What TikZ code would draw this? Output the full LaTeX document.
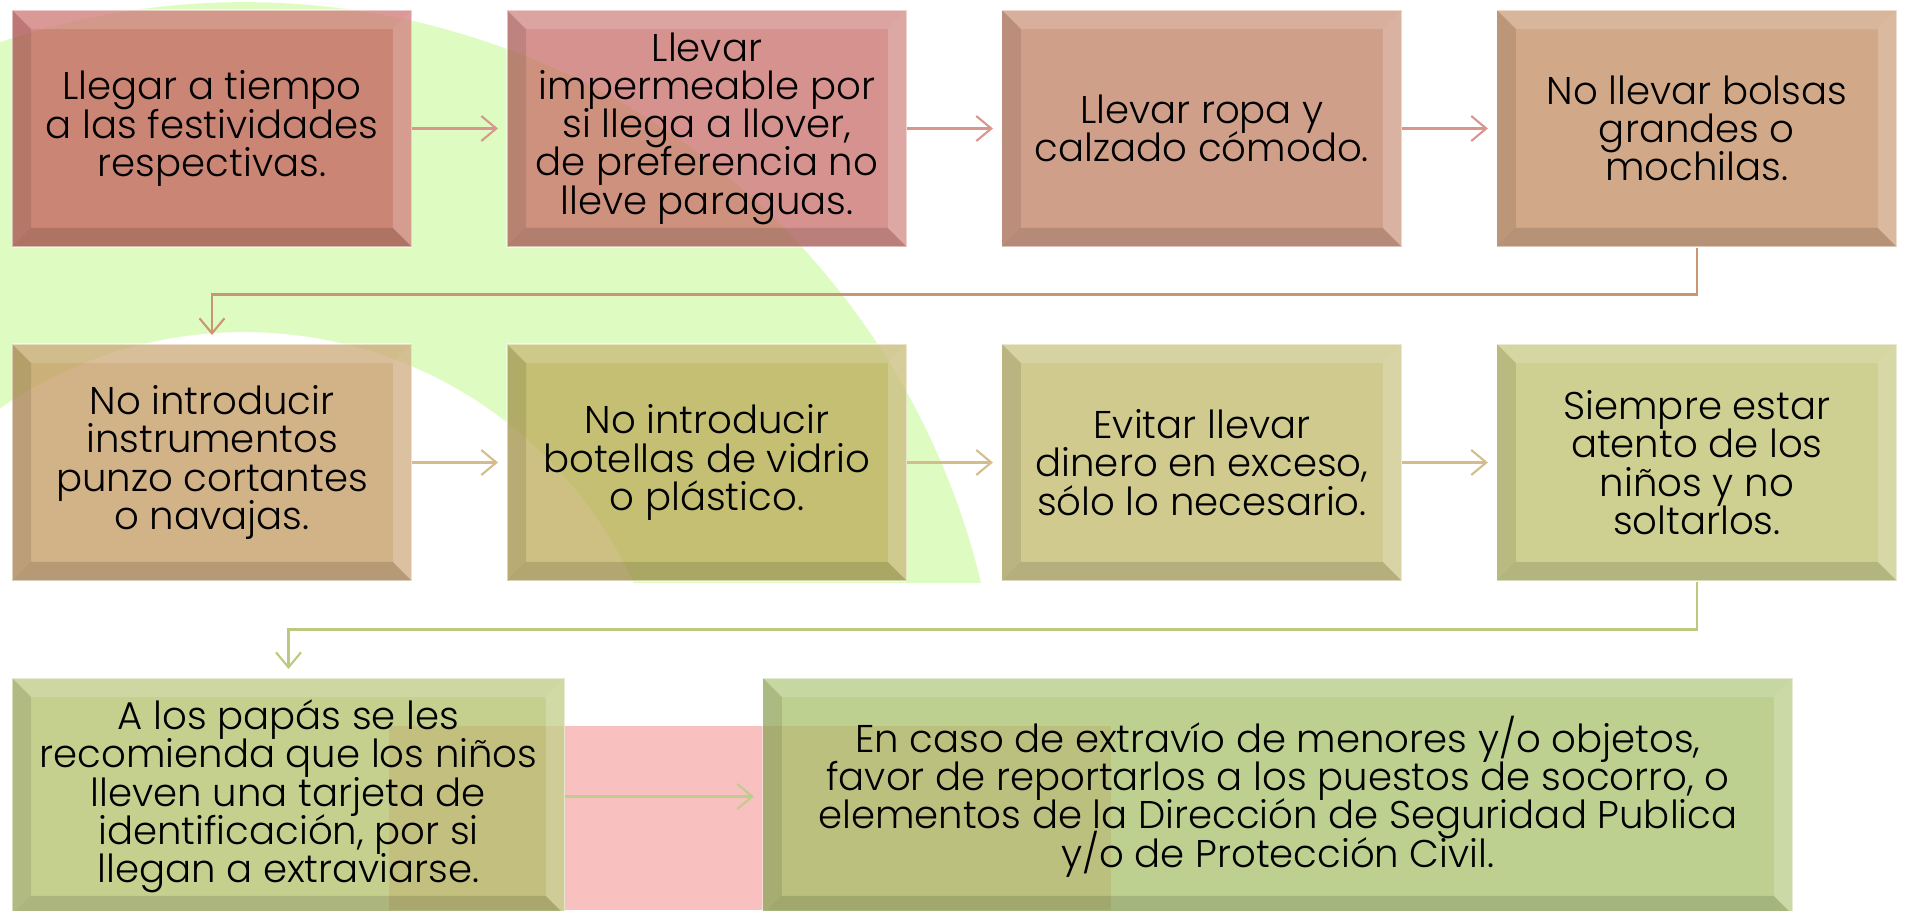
\documentclass[tikz,border=0pt]{standalone}
\usepackage{fontspec}
\IfFontExistsTF{Poppins Light}{\setmainfont{Poppins Light}}{\setmainfont{Poppins}}
\usetikzlibrary{arrows.meta,
                positioning}

\definecolor{anillo}{RGB}{222,252,194}
\definecolor{rosafondo}{RGB}{249,192,192}
\definecolor{cajaA}{RGB}{196,94,90}
\definecolor{cajaB}{RGB}{200,110,104}
\definecolor{cajaC}{RGB}{192,127,98}
\definecolor{cajaD}{RGB}{194,139,96}
\definecolor{cajaE}{RGB}{195,152,95}
\definecolor{cajaF}{RGB}{188,171,88}
\definecolor{cajaG}{RGB}{192,184,106}
\definecolor{cajaH}{RGB}{188,192,107}
\definecolor{cajaI}{RGB}{178,192,106}
\definecolor{cajaJ}{RGB}{167,192,106}
\definecolor{lineaA}{RGB}{217,150,140}
\definecolor{codoA}{RGB}{200,150,112}
\definecolor{lineaB}{RGB}{212,188,140}
\definecolor{codoB}{RGB}{190,200,128}
\definecolor{lineaC}{RGB}{190,204,140}

\def\ppbb{path picture bounding box}

\tikzset{
    paso/.style={minimum width=8.0cm, minimum height=4.74cm, inner sep=0pt,
                 align=center, fill=#1, fill opacity=0.75, text opacity=1,
                 draw=white, draw opacity=0.5, line width=0.6pt,
                 font={\fontsize{22pt}{21.8pt}\selectfont\lineskiplimit=-10pt},
                 path picture={
                    % bisel claro arriba y a la derecha
                    \fill[white, fill opacity=0.16] (\ppbb.north west) -- (\ppbb.north east)
                        -- ([xshift=-0.38cm,yshift=-0.38cm]\ppbb.north east)
                        -- ([xshift=0.38cm,yshift=-0.38cm]\ppbb.north west) -- cycle;
                    \fill[white, fill opacity=0.2] (\ppbb.north east) -- (\ppbb.south east)
                        -- ([xshift=-0.38cm,yshift=0.38cm]\ppbb.south east)
                        -- ([xshift=-0.38cm,yshift=-0.38cm]\ppbb.north east) -- cycle;
                    % bisel oscuro a la izquierda y abajo
                    \fill[black, fill opacity=0.1] (\ppbb.north west) -- (\ppbb.south west)
                        -- ([xshift=0.38cm,yshift=0.38cm]\ppbb.south west)
                        -- ([xshift=0.38cm,yshift=-0.38cm]\ppbb.north west) -- cycle;
                    \fill[black, fill opacity=0.13] (\ppbb.south west) -- (\ppbb.south east)
                        -- ([xshift=-0.38cm,yshift=0.38cm]\ppbb.south east)
                        -- ([xshift=0.38cm,yshift=0.38cm]\ppbb.south west) -- cycle;
                 }},
    flecha/.style={draw=#1, line width=1.2pt, shorten >=0.17cm,
                   -{Straight Barb[length=0.3cm,width=0.5cm]}},
    node distance=1.92cm and 1.88cm
}

\begin{document}
\begin{tikzpicture}%
    [x=0.02cm, y=-0.02cm]
    \useasboundingbox (0,0) rectangle (1905,910);
    \clip (0,0) rectangle (1905,910);

    % fondo
    \begin{scope}
        \clip (0,0) rectangle (1905,582);
        \fill[anillo, even odd rule] (244,760) circle (15.16cm) (244,760) circle (8.56cm);
    \end{scope}
    \fill[rosafondo] (389,726) rectangle (1111,910);

    % fila 1
    \node[paso=cajaA] (llegar) at (212,128.5) {Llegar a tiempo\\a las festividades\\respectivas.};
    \node[paso=cajaB, right=of llegar] (impermeable) {Llevar\\impermeable por\\si llega a llover,\\de preferencia no\\lleve paraguas.};
    \node[paso=cajaC, right=of impermeable] (ropa) {Llevar ropa y\\calzado cómodo.};
    \node[paso=cajaD, right=of ropa] (bolsas) {No llevar bolsas\\grandes o\\mochilas.};

    % fila 2
    \node[paso=cajaE, below=of llegar] (punzo) {No introducir\\instrumentos\\punzo cortantes\\o navajas.};
    \node[paso=cajaF, right=of punzo] (botellas) {No introducir\\botellas de vidrio\\o plástico.};
    \node[paso=cajaG, right=of botellas] (dinero) {Evitar llevar\\dinero en exceso,\\sólo lo necesario.};
    \node[paso=cajaH, right=of dinero] (ninos) {Siempre estar\\atento de los\\niños y no\\soltarlos.};

    % fila 3
    \node[paso=cajaI, minimum width=11.06cm, below=of punzo.south west, anchor=north west] (tarjeta)
        {A los papás se les\\recomienda que los niños\\lleven una tarjeta de\\identificación, por si\\llegan a extraviarse.};
    \node[paso=cajaJ, minimum width=20.6cm, right=3.94cm of tarjeta] (extravio)
        {En caso de extravío de menores y/o objetos,\\favor de reportarlos a los puestos de socorro, o\\elementos de la Dirección de Seguridad Publica\\y/o de Protección Civil.};

    % flechas
    \draw[flecha=lineaA] (llegar) -- (impermeable);
    \draw[flecha=lineaA] (impermeable) -- (ropa);
    \draw[flecha=lineaA] (ropa) -- (bolsas);
    \draw[flecha=codoA] (bolsas.south) -- ++(0,47) -| (punzo.north);
    \draw[flecha=lineaB] (punzo) -- (botellas);
    \draw[flecha=lineaB] (botellas) -- (dinero);
    \draw[flecha=lineaB] (dinero) -- (ninos);
    \draw[flecha=codoB] (ninos.south) -- ++(0,48) -| (tarjeta.north);
    \draw[flecha=lineaC] (tarjeta) -- (extravio);

\end{tikzpicture}
\end{document}
